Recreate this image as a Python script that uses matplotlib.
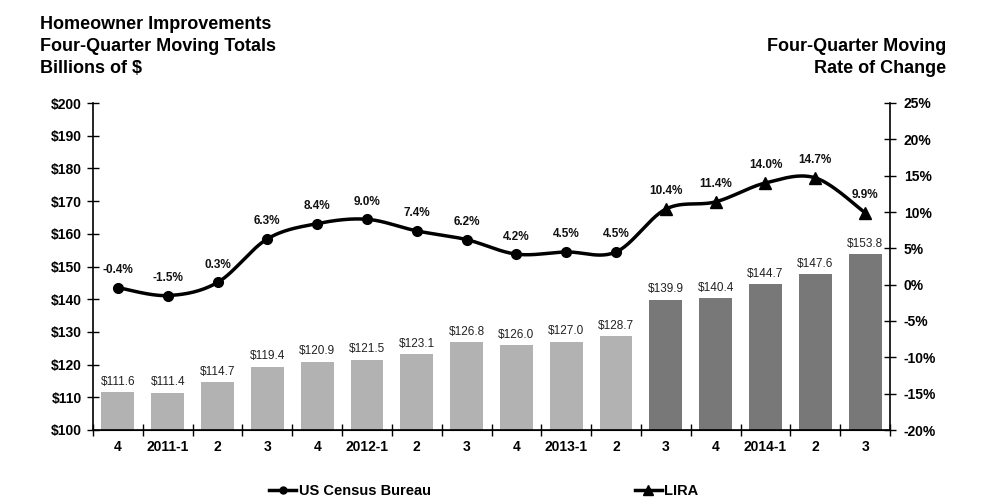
import numpy as np
import matplotlib
matplotlib.use("Agg")
import matplotlib.pyplot as plt
from matplotlib.lines import Line2D

plt.rcParams['font.family'] = ['Liberation Sans', 'DejaVu Sans']

categories = ["4", "2011-1", "2", "3", "4", "2012-1", "2", "3", "4", "2013-1", "2",
              "3", "4", "2014-1", "2", "3"]
spending = [111.6, 111.4, 114.7, 119.4, 120.9, 121.5, 123.1, 126.8, 126.0, 127.0, 128.7,
            139.9, 140.4, 144.7, 147.6, 153.8]
rate_change = [-0.4, -1.5, 0.3, 6.3, 8.4, 9.0, 7.4, 6.2, 4.2, 4.5, 4.5,
               10.4, 11.4, 14.0, 14.7, 9.9]
n_census = 11  # first 11 points: US Census Bureau, rest: LIRA

light = "#b2b2b2"
dark = "#787878"

fig = plt.figure(figsize=(10, 5), dpi=100)
ax = fig.add_axes([0.093, 0.14, 0.797, 0.654])
ax2 = ax.twinx()

x = np.arange(len(categories))
colors = [light if i < n_census else dark for i in range(len(categories))]
ax.bar(x, spending, width=0.66, color=colors, zorder=2)
for xi, v in zip(x, spending):
    ax.text(xi, v + 1.3, f"${v:.1f}", ha="center", va="bottom", fontsize=8.5, color="#222222")

ax.set_ylim(100, 200)
ax.set_xlim(-0.5, len(categories) - 0.5)
ax.set_yticks(np.arange(100, 201, 10))
ax.set_yticklabels([f"${v}" for v in range(100, 201, 10)], fontsize=10, fontweight="bold")
ax.set_xticks(x)
ax.set_xticklabels(categories, fontsize=10, fontweight="bold")
ax.tick_params(axis="x", length=0, pad=7)
ax.set_xticks(np.arange(-0.5, len(categories), 1), minor=True)
ax.tick_params(axis="x", which="minor", length=8, direction="inout", width=1)
ax.tick_params(axis="y", length=8, direction="inout", width=1, pad=4)
for s in ["top", "right"]:
    ax.spines[s].set_visible(False)
ax2.spines["top"].set_visible(False)
ax2.spines["left"].set_visible(False)
ax.spines["left"].set_linewidth(1.2)
ax.spines["bottom"].set_linewidth(1.2)
ax2.spines["right"].set_linewidth(1.2)

ax2.set_ylim(-20, 25)
ax2.set_yticks(np.arange(-20, 26, 5))
ax2.set_yticklabels([f"{v}%" for v in range(-20, 26, 5)], fontsize=10, fontweight="bold")
ax2.tick_params(axis="y", length=8, direction="inout", width=1, pad=6)

# smooth curve (Catmull-Rom) through the data points
def catmull_rom(xs, ys, n=30):
    xs = np.asarray(xs, float); ys = np.asarray(ys, float)
    px = np.concatenate([[xs[0]], xs, [xs[-1]]])
    py = np.concatenate([[ys[0]], ys, [ys[-1]]])
    outx, outy = [], []
    for i in range(1, len(px) - 2):
        p0, p1, p2, p3 = (np.array([px[j], py[j]]) for j in (i - 1, i, i + 1, i + 2))
        c1 = p1 + (p2 - p0) / 6
        c2 = p2 - (p3 - p1) / 6
        t = np.linspace(0, 1, n)[:, None]
        b = (1 - t) ** 3 * p1 + 3 * (1 - t) ** 2 * t * c1 + 3 * (1 - t) * t ** 2 * c2 + t ** 3 * p2
        outx.extend(b[:, 0]); outy.extend(b[:, 1])
    return np.array(outx), np.array(outy)

sx, sy = catmull_rom(x, rate_change)
ax2.plot(sx, sy, color="black", lw=2.5, zorder=3, solid_capstyle="round")
ax2.plot(x[:n_census], rate_change[:n_census], "o", color="black", ms=7, zorder=4)
ax2.plot(x[n_census:], rate_change[n_census:], "^", color="black", ms=8, zorder=4)
for xi, v in zip(x, rate_change):
    ax2.text(xi, v + 1.6, f"{v:.1f}%", ha="center", va="bottom", fontsize=8.5,
             fontweight="bold", color="#111111")

fig.text(0.04, 0.968, "Homeowner Improvements\nFour-Quarter Moving Totals\nBillions of $",
         ha="left", va="top", fontsize=13, fontweight="bold", linespacing=1.4)
fig.text(0.946, 0.924, "Four-Quarter Moving\nRate of Change",
         ha="right", va="top", fontsize=13, fontweight="bold", linespacing=1.4)

h1 = Line2D([], [], color="black", lw=2.5, marker="o", ms=5)
h2 = Line2D([], [], color="black", lw=2.5, marker="^", ms=7)
fig.legend([h1], ["US Census Bureau"], loc="center", bbox_to_anchor=(0.35, 0.018),
           frameon=False, prop={"weight": "bold", "size": 10.5}, handlelength=1.8, handletextpad=0.2)
fig.legend([h2], ["LIRA"], loc="center", bbox_to_anchor=(0.667, 0.018),
           frameon=False, prop={"weight": "bold", "size": 10.5}, handlelength=1.8, handletextpad=0.2)

fig.savefig("out.png", dpi=100)
